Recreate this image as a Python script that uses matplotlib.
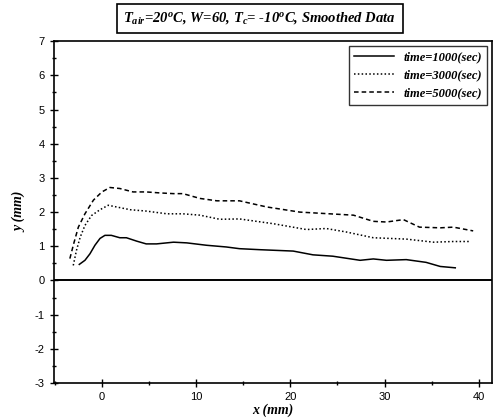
import numpy as np
import matplotlib.pyplot as plt
from matplotlib.ticker import MultipleLocator

# time = 1000 sec
x_1000 = [-2.4, -1.8, -1.27, -0.74, -0.2, 0.32, 1.0, 1.9, 2.6, 3.7, 4.7, 5.8, 7.6, 9.0, 11.1, 13.2,
          14.6, 16.8, 20.3, 22.4, 24.5, 27.4, 28.8, 30.2, 32.3, 34.4, 35.9, 37.5]
y_1000 = [0.47, 0.59, 0.78, 1.03, 1.23, 1.32, 1.32, 1.25, 1.25, 1.15, 1.07, 1.07, 1.12, 1.10, 1.03, 0.98,
          0.93, 0.90, 0.86, 0.75, 0.71, 0.59, 0.63, 0.59, 0.61, 0.53, 0.41, 0.37]

# time = 3000 sec
x_3000 = [-3.04, -2.7, -2.3, -1.8, -1.1, -0.2, 0.67, 1.56, 3.0, 4.7, 6.9, 8.6, 10.4, 12.5, 14.6,
          18.2, 21.7, 23.8, 25.9, 28.8, 32.3, 35.2, 37.3, 39.0]
y_3000 = [0.44, 0.88, 1.27, 1.61, 1.9, 2.07, 2.2, 2.15, 2.07, 2.03, 1.95, 1.95, 1.91, 1.79, 1.80,
          1.66, 1.49, 1.52, 1.42, 1.25, 1.21, 1.12, 1.14, 1.14]

# time = 5000 sec
x_5000 = [-3.4, -3.0, -2.5, -1.8, -0.9, 0.0, 0.85, 1.9, 3.3, 4.7, 6.2, 7.6, 8.6, 10.4, 12.2, 14.6,
          17.5, 21.0, 26.7, 28.8, 30.2, 32.0, 33.7, 35.9, 37.3, 39.4]
y_5000 = [0.64, 1.07, 1.56, 1.95, 2.35, 2.59, 2.72, 2.69, 2.59, 2.59, 2.56, 2.54, 2.54, 2.40, 2.33, 2.33,
          2.15, 2.00, 1.91, 1.73, 1.71, 1.78, 1.56, 1.54, 1.56, 1.45]

serif = 'Liberation Serif'
plt.rcParams['mathtext.fontset'] = 'custom'
plt.rcParams['mathtext.it'] = 'Liberation Serif:italic:bold'
plt.rcParams['mathtext.rm'] = 'Liberation Serif:italic:bold'
plt.rcParams['mathtext.bf'] = 'Liberation Serif:italic:bold'
plt.rcParams['axes.unicode_minus'] = False

fig = plt.figure(figsize=(4.94, 4.2), dpi=100)
ax = fig.add_axes([0.109, 0.088, 0.887, 0.814])

ax.plot(x_1000, y_1000, color='black', lw=1.1, ls='-', label='time=1000(sec)')
ax.plot(x_3000, y_3000, color='black', lw=1.1, ls=(0, (1, 1.5)), label='time=3000(sec)')
ax.plot(x_5000, y_5000, color='black', lw=1.1, ls=(0, (3, 2)), label='time=5000(sec)')
ax.axhline(0, color='black', lw=1.4)

ax.set_xlim(-5.1, 41.4)
ax.set_ylim(-3, 7)
ax.xaxis.set_major_locator(MultipleLocator(10))
ax.xaxis.set_minor_locator(MultipleLocator(5))
ax.yaxis.set_major_locator(MultipleLocator(1))
ax.yaxis.set_minor_locator(MultipleLocator(0.5))
ax.tick_params(which='both', direction='inout', labelsize=8, width=1)
ax.tick_params(which='major', length=6)
ax.tick_params(which='minor', length=3)
for lab in ax.get_xticklabels() + ax.get_yticklabels():
    lab.set_family('Liberation Sans')
for s in ax.spines.values():
    s.set_linewidth(1.2)

ax.set_xlabel('x (mm)', family=serif, style='italic', weight='bold', fontsize=10, labelpad=1)
ax.set_ylabel('y (mm)', family=serif, style='italic', weight='bold', fontsize=10, labelpad=6)

leg = ax.legend(loc='upper right', frameon=True, fancybox=False, handlelength=3.2,
                prop={'family': serif, 'style': 'italic', 'weight': 'bold', 'size': 9},
                borderaxespad=0.4, labelspacing=0.5)
leg.get_frame().set_edgecolor('black')
leg.get_frame().set_linewidth(1.0)

fig.text(0.526, 0.957, r'$T_{air}$=20$^o$C, W=60, $T_c$= -10$^o$C, Smoothed Data',
         ha='center', va='center', family=serif, style='italic', weight='bold', fontsize=10.5,
         bbox=dict(boxstyle='square,pad=0.45', fc='white', ec='black', lw=1.2))

fig.savefig('out.png', dpi=100)
